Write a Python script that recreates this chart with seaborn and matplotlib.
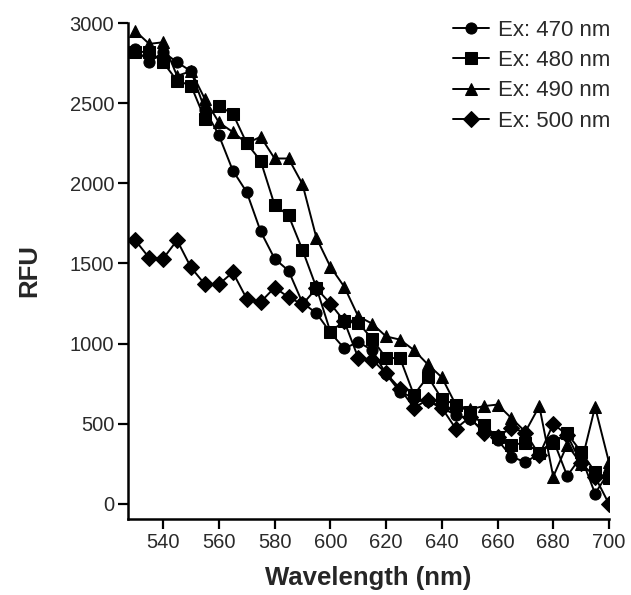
import numpy as np
import pandas as pd
import matplotlib
matplotlib.use("Agg")
import matplotlib.pyplot as plt
import seaborn as sns

wavelength = list(range(530, 705, 5))

ex470 = [2840, 2755, 2820, 2755, 2700, 2460, 2300, 2080, 1945, 1700,
         1530, 1455, 1255, 1190, 1070, 970, 1010, 960, 810, 700,
         660, 640, 600, 555, 530, 460, 400, 295, 260, 315,
         400, 175, 295, 65, 200]
ex480 = [2820, 2820, 2755, 2640, 2610, 2400, 2480, 2435, 2250, 2140,
         1865, 1800, 1585, 1350, 1075, 1140, 1130, 1030, 910, 910,
         680, 795, 655, 620, 575, 490, 420, 370, 380, 320,
         380, 440, 325, 200, 160]
ex490 = [2950, 2870, 2880, 2670, 2700, 2525, 2380, 2320, 2250, 2290,
         2155, 2155, 1995, 1660, 1480, 1355, 1170, 1125, 1045, 1025,
         960, 870, 790, 620, 590, 610, 620, 535, 450, 610,
         170, 370, 250, 605, 260]
ex500 = [1645, 1535, 1530, 1645, 1475, 1370, 1370, 1445, 1280, 1260,
         1350, 1290, 1245, 1345, 1250, 1140, 912, 900, 815, 720,
         600, 650, 600, 470, 540, 445, 420, 475, 445, 305,
         500, 430, 255, 170, 0]

labels = ["Ex: 470 nm", "Ex: 480 nm", "Ex: 490 nm", "Ex: 500 nm"]
marker_list = ["o", "s", "^", "D"]

df = pd.concat([
    pd.DataFrame({"Wavelength": wavelength, "RFU": vals, "Series": lab})
    for vals, lab in zip([ex470, ex480, ex490, ex500], labels)
], ignore_index=True)

sns.set_theme(style="ticks")
plt.rcParams["font.family"] = ["Liberation Sans", "DejaVu Sans"]

fig = plt.figure(figsize=(6.31, 5.95), dpi=100)
ax = fig.add_axes([0.2029, 0.1277, 0.9651 - 0.2029, 0.9613 - 0.1277])

msizes = [8, 8.5, 9, 8.5]
for lab, mk, ms in zip(labels, marker_list, msizes):
    sub = df[df["Series"] == lab]
    sns.lineplot(data=sub, x="Wavelength", y="RFU", ax=ax, color="black",
                 marker=mk, markersize=ms, markeredgecolor="black",
                 markerfacecolor="black", linewidth=1.4, label=lab)

ax.set_xlim(527.4, 700)
ax.set_ylim(-94, 3000)
ax.set_xticks(list(range(540, 701, 20)))
ax.set_yticks(list(range(0, 3001, 500)))
for s in ["top", "right"]:
    ax.spines[s].set_visible(False)
for s in ["left", "bottom"]:
    ax.spines[s].set_linewidth(1.8)
    ax.spines[s].set_color("black")
ax.tick_params(axis="both", direction="out", length=7, width=1.6,
               color="black", labelsize=14.5, labelcolor="#2a2a2a", pad=3)

ax.set_xlabel("Wavelength (nm)", fontsize=18.5, fontweight="bold", labelpad=10)
ax.set_ylabel("RFU", fontsize=18.5, fontweight="bold", labelpad=20)

leg = ax.legend(loc="upper right", bbox_to_anchor=(1.045, 1.047), frameon=False,
                fontsize=16, handlelength=1.65, handletextpad=0.4,
                labelspacing=0.42, labelcolor="#2a2a2a")

fig.savefig("out.png", dpi=100)
